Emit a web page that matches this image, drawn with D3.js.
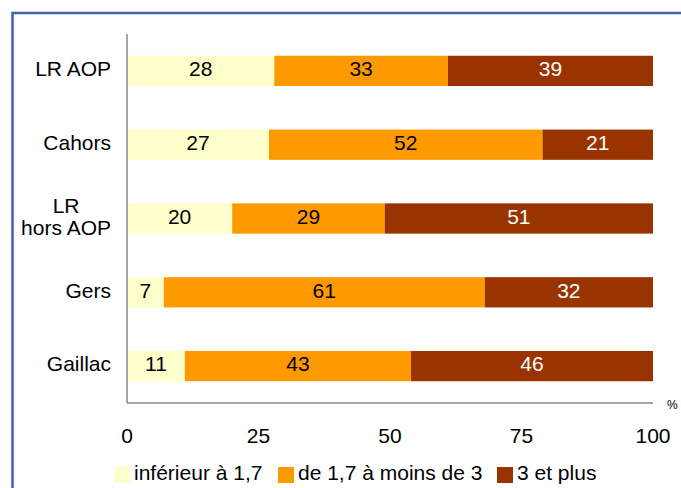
<!DOCTYPE html>
<html>
<head>
<meta charset="utf-8">
<script src="https://cdn.jsdelivr.net/npm/d3@7"></script>
<style>
  body { margin: 0; background: #fff; }
  svg { display: block; }
</style>
</head>
<body>
<div id="container"></div>
<script>
// Stacked horizontal 100% bars — French wine regions

const categories = ['LR AOP', 'Cahors', 'LR hors AOP', 'Gers', 'Gaillac'];
const categoryLines = [['LR AOP'], ['Cahors'], ['LR', 'hors AOP'], ['Gers'], ['Gaillac']];
const seriesNames = ['inférieur à 1,7', 'de 1,7 à moins de 3', '3 et plus'];
const seriesColors = ['#FFFFCC', '#FF9900', '#993300'];
const labelColors = ['#000000', '#000000', '#ffffff'];
const lowValues = [28, 27, 20, 7, 11];
const midValues = [33, 52, 29, 61, 43];
const highValues = [39, 21, 51, 32, 46];
const xTicks = [0, 25, 50, 75, 100];

const W = 681, H = 488;
const font = '"Liberation Sans", Arial, sans-serif';
const fs = 21;

const svg = d3.select('#container').append('svg')
  .attr('width', W).attr('height', H);

// outer frame (only top and left visible in the crop)
svg.append('rect')
  .attr('x', 12.5).attr('y', 13)
  .attr('width', 700).attr('height', 500)
  .attr('fill', 'none')
  .attr('stroke', '#4461AE')
  .attr('stroke-width', 2.5);

const plot = { left: 127, right: 653, top: 34, bottom: 403 };

const x = d3.scaleLinear().domain([0, 100]).range([plot.left, plot.right]);
const y = d3.scaleBand().domain(categories).range([plot.top, plot.bottom])
  .paddingInner(0.59).paddingOuter(0.295);

const rows = categories.map((c, i) => ({
  cat: c, vals: [lowValues[i], midValues[i], highValues[i]]
}));

rows.forEach((row) => {
  let acc = 0;
  row.vals.forEach((v, s) => {
    const x0 = x(acc), x1 = x(acc + v);
    svg.append('rect')
      .attr('x', x0).attr('y', y(row.cat))
      .attr('width', x1 - x0).attr('height', y.bandwidth())
      .attr('fill', seriesColors[s]);
    svg.append('text')
      .attr('x', (x0 + x1) / 2)
      .attr('y', y(row.cat) + y.bandwidth() / 2)
      .attr('dy', '0.25em')
      .attr('text-anchor', 'middle')
      .attr('fill', labelColors[s])
      .attr('font-family', font).attr('font-size', fs)
      .text(v);
    acc += v;
  });
});

// axes lines
svg.append('line')
  .attr('x1', plot.left).attr('x2', plot.left)
  .attr('y1', plot.top).attr('y2', plot.bottom)
  .attr('stroke', '#888').attr('stroke-width', 1.5);
svg.append('line')
  .attr('x1', plot.left).attr('x2', plot.right)
  .attr('y1', plot.bottom).attr('y2', plot.bottom)
  .attr('stroke', '#888').attr('stroke-width', 1.5);

// x tick labels
svg.selectAll('.xt').data(xTicks).enter().append('text')
  .attr('x', d => x(d)).attr('y', 443)
  .attr('text-anchor', 'middle')
  .attr('font-family', font).attr('font-size', fs)
  .text(d => d);

svg.append('text')
  .attr('x', 667).attr('y', 409)
  .attr('font-family', font).attr('font-size', 12)
  .text('%');

// category labels
categories.forEach((c, i) => {
  const lines = categoryLines[i];
  const cy = y(c) + y.bandwidth() / 2;
  const lh = 22;
  const t = svg.append('text')
    .attr('font-family', font).attr('font-size', fs)
    .attr('text-anchor', 'middle');
  lines.forEach((ln, j) => {
    t.append('tspan')
      .attr('y', cy + (j - (lines.length - 1) / 2) * lh)
      .attr('dy', '0.25em')
      .text(ln);
  });
  // right-align the block at x=111, lines centred on each other
  const w = t.node().getBBox().width;
  t.selectAll('tspan').attr('x', 111 - w / 2);
});

// legend
const legendX = [114, 278, 497];
seriesNames.forEach((n, i) => {
  svg.append('rect')
    .attr('x', legendX[i]).attr('y', 467)
    .attr('width', 16).attr('height', 16)
    .attr('fill', seriesColors[i]);
  svg.append('text')
    .attr('x', legendX[i] + 20).attr('y', 480)
    .attr('font-family', font).attr('font-size', fs)
    .text(n);
});
</script>
</body>
</html>
